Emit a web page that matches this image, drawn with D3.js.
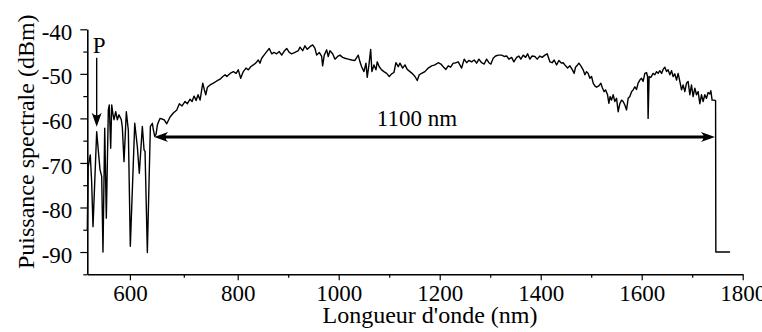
<!DOCTYPE html>
<html>
<head>
<meta charset="utf-8">
<script src="https://cdn.jsdelivr.net/npm/d3@7"></script>
<style>
  body { margin: 0; background: #fff; }
</style>
</head>
<body>
<div id="vis"></div>
<script>
// [wavelength nm, power dBm]
const pumpRegion = [
  [521, -85], [522.5, -71], [526.5, -68.2], [529, -74], [531.6, -84.3], [538.4, -63],
  [542, -68], [544.6, -71.5], [547.7, -73], [550.1, -90], [553.3, -62.2], [556.3, -82.4],
  [560, -58.1], [561.8, -57], [564.4, -66.7], [566.3, -57], [568.5, -59], [570.6, -60.3],
  [573.7, -58.5], [576.7, -60.3], [579.8, -59.2], [584.1, -60.3], [586, -62], [589.1, -69.7],
  [593.4, -58.5], [597.1, -62.6], [600.8, -88.7], [609, -61.1], [613.8, -66.3], [617.5, -72.3],
  [623.1, -61.8], [626.3, -67.1], [628.1, -67.4], [632.4, -90.1], [638, -61.8], [641.7, -61.1],
  [643.5, -62.5], [646, -64], [648.5, -63.6], [651, -61.5], [653, -60.8]
];

const continuumBlue = [
  [656, -60.0], [663.4, -60.3], [668.4, -61.2], [674.5, -59.7], [680.6, -58.8], [687, -58.1],
  [691.8, -56.7], [696.8, -57.2], [702.4, -56.2], [706.6, -56.7], [711.7, -55.7], [715.4, -56.2],
  [719.1, -55.0], [722.8, -56.0], [726.5, -54.7], [730.2, -55.9], [735.2, -52.1], [738.2, -53.6],
  [740.8, -54.7], [743.8, -53], [748.8, -52.5], [754.9, -52.1], [761.2, -51.6], [767.3, -51.2],
  [772.4, -50.6], [776.6, -50.2], [779.8, -50.6], [785.9, -49.9], [792, -49.5], [797, -49.9],
  [801.2, -49.1], [805.9, -51], [811.1, -49.5], [816.4, -48.7], [821, -49.1], [825.7, -48.4],
  [830.9, -48], [835.6, -47.6], [840.8, -46.9], [844.1, -47.6], [847.5, -46.5], [852.1, -45.8],
  [857.4, -45], [862.5, -44.3], [867.3, -45.5], [871.9, -45.2], [877.2, -45.5], [882.3, -45],
  [887.1, -45.8], [891.6, -45], [897, -44.3], [902.1, -45.2], [906.9, -45.5], [913.4, -45.2],
  [920, -44.8], [923.3, -44], [928.7, -44.8], [933.2, -43.7], [937.8, -44.5], [943.1, -43.9],
  [948.5, -43.5], [953, -44.3], [956.4, -45.8], [961.5, -45.2], [966.3, -46.1], [968.2, -48.2],
  [971.4, -45.8], [976.2, -44.6], [979.3, -46.1], [982.7, -44.8], [988, -45.5], [992.6, -46.7],
  [997.9, -46.1], [1002.5, -45.8], [1007.8, -46.3], [1012.4, -46.5], [1018.9, -46.7], [1025.7, -46.9],
  [1032.2, -47], [1038.7, -45.8], [1042.1, -47.3], [1045.4, -48.4], [1050, -49.5], [1054, -47.6],
  [1056.5, -50.8], [1059.9, -48], [1063.3, -44.5], [1065.8, -49.5], [1069.8, -48], [1073.8, -49.1],
  [1076.3, -47.3], [1080.3, -48.4], [1085, -49.1], [1089.6, -49.5], [1094.9, -49.9], [1100.1, -50.6],
  [1104.8, -50], [1109.4, -49.7], [1113.3, -47.5], [1117.9, -48.4], [1121.3, -47.6], [1126.6, -48.7],
  [1131.2, -48], [1135.7, -49], [1141.1, -49.5], [1146.4, -50], [1151, -50.6], [1155.5, -51.5],
  [1159.5, -50.2], [1164.2, -49.9], [1170.7, -49.5], [1177.3, -48.7], [1184, -48.2], [1190.5, -48],
  [1197.1, -47.5], [1202.4, -47.8], [1207, -48.4], [1212.3, -49], [1216.9, -48.2], [1221.6, -48.5],
  [1226.8, -47.6]
];

const continuumIR = [
  [1230.1, -47.6], [1236.7, -47.3], [1243.4, -48.7], [1248.5, -46.7], [1253.3, -47.5], [1257.8, -47],
  [1263.2, -47.3], [1268.3, -46.9], [1273.1, -47.6], [1277.6, -46.7], [1283, -47.5], [1288.1, -47.8],
  [1292.9, -46.7], [1297.4, -47.5], [1301.4, -47.8], [1305.9, -46.5], [1310.7, -46], [1315.8, -45.8],
  [1322.6, -45.8], [1327.7, -46.1], [1332.5, -46], [1337, -46.7], [1342.4, -46.3], [1346.9, -47.3],
  [1352.3, -46.3], [1356.8, -46], [1360.8, -46.7], [1365.3, -45.8], [1370.1, -46.3], [1374, -45.5],
  [1378.6, -46.7], [1383.1, -46], [1388.5, -46.1], [1393, -46.7], [1398.4, -46], [1402.9, -46.3],
  [1408.3, -45.8], [1412.8, -45.5], [1418.2, -47.3], [1422.7, -47.5], [1426.7, -46.9], [1431.4, -48],
  [1436, -47], [1441.3, -47.6], [1444.5, -47.5], [1449.2, -48.2], [1453.2, -48.7], [1457.8, -48.2],
  [1462.3, -49], [1466.3, -49.9], [1469, -48.5], [1473, -48], [1475.6, -47.6], [1479.5, -48.2],
  [1484.1, -49.1], [1487.5, -50.2], [1490.8, -49.5], [1494, -49.9], [1497.3, -51], [1500.7, -50.6],
  [1503.9, -52.1], [1507.2, -52.7], [1510.6, -53], [1515.2, -52.7], [1519.1, -52.1], [1521.7, -53],
  [1525.6, -54], [1528.4, -53.6], [1532.4, -54.7], [1534.9, -56.6], [1537.5, -55.1], [1540.3, -55.9],
  [1543.5, -54.7], [1546.8, -56.2], [1550.2, -55.5], [1553.4, -58.5], [1556.7, -56.7], [1560.1, -55.9],
  [1563.3, -56.2], [1566.6, -57], [1570, -58.1], [1573.2, -55.5], [1576.5, -55.1], [1579.9, -54],
  [1583, -53.6], [1586.4, -52.9], [1589.8, -53.5], [1592.9, -52.1], [1596.3, -51.4], [1599.7, -51],
  [1602.8, -51.7], [1606.2, -49.9], [1609.6, -49.7], [1611.6, -50.6], [1612.7, -60], [1614.7, -50.6],
  [1618.1, -50.8], [1622.6, -49.9], [1626, -50.2], [1629.4, -49.5], [1632.5, -49.9], [1635.9, -49.3],
  [1639.3, -49.9], [1642.4, -49], [1645.8, -48.5], [1649.2, -49.5], [1652.3, -49.1], [1655.7, -50.2],
  [1659.1, -49.3], [1662.2, -50.6], [1665.6, -50], [1669, -51.4], [1672.1, -49.9], [1675.5, -51.7],
  [1678.9, -53.6], [1682, -52.5], [1685.4, -54], [1688.7, -52.1], [1691.9, -51.7], [1695.3, -54.7],
  [1698.6, -52.5], [1701.8, -55.1], [1705.2, -53.2], [1708.5, -54.7], [1711.7, -54], [1715.1, -56.7],
  [1718.4, -54.7], [1721.6, -56.2], [1725, -54.7], [1728.3, -55.5], [1731.5, -54.2], [1734.9, -54.5],
  [1736.9, -53.8], [1739.4, -55.9], [1743.4, -55.9], [1746.3, -56]
];

const cutoff = [[1746.8, -90], [1775, -90]];

const xMajorTicks = [600, 800, 1000, 1200, 1400, 1600, 1800];
const xMinorTicks = [700, 900, 1100, 1300, 1500, 1700];
const yMajorTicks = [-40, -50, -60, -70, -80, -90];
const yMinorTicks = [-45, -55, -65, -75, -85, -95];

// annotations: pump peak P and the 1100 nm span
const pumpArrow = { nm: 538.4, from: -46.4, to: -61.9, label: "P" };
const spanArrow = { from: 645, to: 1745, dbm: -64.2, label: "1100 nm", labelNm: 1155, labelDbm: -61.8 };

const margin = { top: 29.3, right: 19.3, bottom: 57.7, left: 87.3 };
const width = 762 - margin.left - margin.right;
const height = 332 - margin.top - margin.bottom;
const serif = "Liberation Serif";

const root = d3.select("#vis")
  .append("svg")
  .attr("width", 762)
  .attr("height", 332);

const svg = root.append("g")
  .attr("transform", `translate(${margin.left},${margin.top})`);

// the printed axis is a bit stretched below 800 nm, so the scale has a knee there
const x = d3.scaleLinear()
  .domain([521, 800, 1800])
  .range([0, 150.4, width]);

const y = d3.scaleLinear()
  .domain([-95, -40])
  .range([height, 0]);

// Axes
svg.append("g")
  .attr("transform", `translate(0,${height})`)
  .call(d3.axisBottom(x).tickValues(xMajorTicks).tickSize(6).tickSizeOuter(0).tickPadding(4).tickFormat(d3.format("d")));
svg.append("g")
  .attr("transform", `translate(0,${height})`)
  .call(d3.axisBottom(x).tickValues(xMinorTicks).tickSize(3.5).tickFormat(""))
  .select(".domain").remove();

const yAxis = svg.append("g")
  .call(d3.axisLeft(y).tickValues(yMajorTicks).tickSize(7).tickSizeOuter(0).tickPadding(8).tickFormat(d => String(d)));
svg.append("g")
  .call(d3.axisLeft(y).tickValues(yMinorTicks).tickSize(4).tickFormat(""))
  .select(".domain").remove();

svg.selectAll(".domain").attr("stroke-width", 1.6);
svg.selectAll(".tick line").attr("stroke-width", 1.2);
svg.selectAll(".tick text")
  .attr("font-family", serif)
  .attr("font-size", 23)
  .attr("fill", "#000");
yAxis.selectAll(".tick text").attr("dy", "0.44em");

// Axis titles
svg.append("text")
  .attr("x", 430 - margin.left)
  .attr("y", 323 - margin.top)
  .attr("text-anchor", "middle")
  .attr("font-family", serif)
  .attr("font-size", 24)
  .text("Longueur d'onde (nm)");

svg.append("text")
  .attr("transform", `translate(${33.5 - margin.left},${141.7 - margin.top}) rotate(-90)`)
  .attr("text-anchor", "middle")
  .attr("font-family", serif)
  .attr("font-size", 24)
  .text("Puissance spectrale (dBm)");

// Spectrum
const spectrum = pumpRegion.concat(continuumBlue, continuumIR, cutoff);

const line = d3.line()
  .x(d => x(d[0]))
  .y(d => y(d[1]));

svg.append("path")
  .datum(spectrum)
  .attr("fill", "none")
  .attr("stroke", "#000")
  .attr("stroke-width", 1.4)
  .attr("stroke-linejoin", "round")
  .attr("d", line);

// Arrowheads (concave, LaTeX style)
function arrowHead(px, py, angle, len, half) {
  svg.append("path")
    .attr("transform", `translate(${px},${py}) rotate(${angle})`)
    .attr("d", `M0,0 L${-len},${-half} Q${-len * 0.62},0 ${-len},${half} Z`)
    .attr("fill", "#000");
}

// P arrow
svg.append("line")
  .attr("x1", x(pumpArrow.nm)).attr("x2", x(pumpArrow.nm))
  .attr("y1", y(pumpArrow.from)).attr("y2", y(pumpArrow.to) - 8)
  .attr("stroke", "#000")
  .attr("stroke-width", 1.4);
arrowHead(x(pumpArrow.nm), y(pumpArrow.to), 90, 14, 5);

svg.append("text")
  .attr("x", x(pumpArrow.nm) + 2.5)
  .attr("y", y(pumpArrow.from) - 4.5)
  .attr("text-anchor", "middle")
  .attr("font-family", serif)
  .attr("font-size", 23)
  .text(pumpArrow.label);

// 1100 nm span
svg.append("line")
  .attr("x1", x(spanArrow.from) + 8).attr("x2", x(spanArrow.to) - 8)
  .attr("y1", y(spanArrow.dbm)).attr("y2", y(spanArrow.dbm))
  .attr("stroke", "#000")
  .attr("stroke-width", 3);
arrowHead(x(spanArrow.from), y(spanArrow.dbm), 180, 14, 5);
arrowHead(x(spanArrow.to), y(spanArrow.dbm), 0, 14, 5);

svg.append("text")
  .attr("x", x(spanArrow.labelNm))
  .attr("y", y(spanArrow.labelDbm))
  .attr("text-anchor", "middle")
  .attr("font-family", serif)
  .attr("font-size", 23)
  .text(spanArrow.label);
</script>
</body>
</html>
